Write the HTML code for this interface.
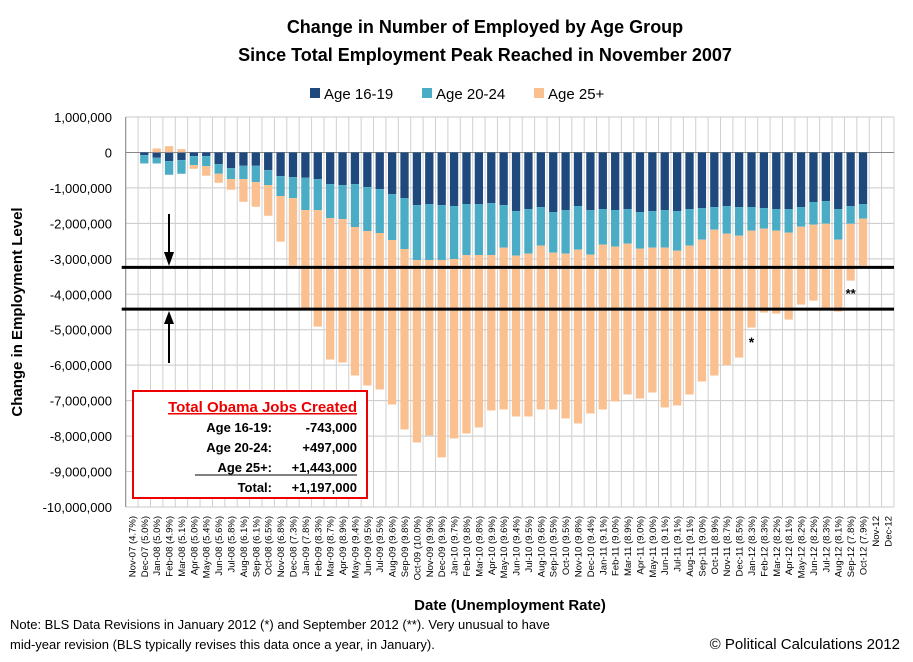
<!DOCTYPE html>
<html><head><meta charset="utf-8"><style>
body{margin:0;background:#fff;}
svg{display:block;font-family:"Liberation Sans",Arial,sans-serif;}
</style></head><body>
<svg id="c" width="913" height="662" xmlns="http://www.w3.org/2000/svg">
<text x="485" y="33" text-anchor="middle" font-size="18" font-weight="bold">Change in Number of Employed by Age Group</text>
<text x="485" y="61" text-anchor="middle" font-size="18" font-weight="bold">Since Total Employment Peak Reached in November 2007</text>
<g font-size="15">
<rect x="310" y="88" width="10" height="10" fill="#1f497d"/>
<text x="324" y="99">Age 16-19</text>
<rect x="422" y="88" width="10" height="10" fill="#4bacc6"/>
<text x="436" y="99">Age 20-24</text>
<rect x="534" y="88" width="10" height="10" fill="#fac090"/>
<text x="548" y="99">Age 25+</text>
</g>
<text transform="translate(22,312) rotate(-90)" text-anchor="middle" font-size="15" font-weight="bold">Change in Employment Level</text>
<text x="510" y="610" text-anchor="middle" font-size="15" font-weight="bold">Date (Unemployment Rate)</text>
<text x="10" y="629" font-size="13">Note: BLS Data Revisions in  January 2012 (*) and September 2012 (**).  Very unusual to have</text>
<text x="10" y="649" font-size="13">mid-year revision (BLS typically revises this data once a year, in January).</text>
<text x="900" y="649" text-anchor="end" font-size="15">© Political Calculations 2012</text>
<g id="plot"></g>
</svg>
<script>
const categories=["Nov-07 (4.7%)","Dec-07 (5.0%)","Jan-08 (5.0%)","Feb-08 (4.9%)","Mar-08 (5.1%)","Apr-08 (5.0%)","May-08 (5.4%)","Jun-08 (5.6%)","Jul-08 (5.8%)","Aug-08 (6.1%)","Sep-08 (6.1%)","Oct-08 (6.5%)","Nov-08 (6.8%)","Dec-08 (7.3%)","Jan-09 (7.8%)","Feb-09 (8.3%)","Mar-09 (8.7%)","Apr-09 (8.9%)","May-09 (9.4%)","Jun-09 (9.5%)","Jul-09 (9.5%)","Aug-09 (9.6%)","Sep-09 (9.8%)","Oct-09 (10.0%)","Nov-09 (9.9%)","Dec-09 (9.9%)","Jan-10 (9.7%)","Feb-10 (9.8%)","Mar-10 (9.8%)","Apr-10 (9.9%)","May-10 (9.6%)","Jun-10 (9.4%)","Jul-10 (9.5%)","Aug-10 (9.6%)","Sep-10 (9.5%)","Oct-10 (9.5%)","Nov-10 (9.8%)","Dec-10 (9.4%)","Jan-11 (9.1%)","Feb-11 (9.0%)","Mar-11 (8.9%)","Apr-11 (9.0%)","May-11 (9.0%)","Jun-11 (9.1%)","Jul-11 (9.1%)","Aug-11 (9.1%)","Sep-11 (9.0%)","Oct-11 (8.9%)","Nov-11 (8.7%)","Dec-11 (8.5%)","Jan-12 (8.3%)","Feb-12 (8.3%)","Mar-12 (8.2%)","Apr-12 (8.1%)","May-12 (8.2%)","Jun-12 (8.2%)","Jul-12 (8.3%)","Aug-12 (8.1%)","Sep-12 (7.8%)","Oct-12 (7.9%)","Nov-12","Dec-12"];
// values in thousands; null = no data
const age1619=[0,-75,-150,-244,-216,-103,-103,-329,-441,-376,-376,-498,-667,-695,-714,-751,-892,-920,-892,-977,-1033,-1174,-1286,-1484,-1455,-1484,-1512,-1455,-1455,-1427,-1484,-1653,-1596,-1540,-1681,-1624,-1512,-1624,-1596,-1624,-1596,-1681,-1653,-1624,-1653,-1596,-1568,-1540,-1512,-1540,-1540,-1568,-1596,-1596,-1540,-1399,-1371,-1596,-1512,-1455,null,null];
const age2024=[0,-235,-160,-385,-385,-254,-282,-272,-310,-376,-460,-423,-563,-592,-911,-873,-958,-958,-1211,-1239,-1239,-1296,-1437,-1549,-1578,-1549,-1493,-1437,-1437,-1465,-1202,-1258,-1258,-1089,-1146,-1230,-1230,-1258,-1005,-1033,-977,-1033,-1033,-1061,-1117,-1033,-892,-639,-779,-808,-667,-582,-610,-667,-554,-639,-639,-864,-498,-413,null,null];
const age25=[0,0,113,178,94,-103,-272,-254,-300,-639,-695,-864,-1286,-1906,-2770,-3287,-3991,-4047,-4188,-4357,-4413,-4639,-5089,-5146,-4949,-5568,-5061,-5033,-4864,-4385,-4564,-4535,-4592,-4620,-4423,-4648,-4902,-4479,-4648,-4366,-4254,-4226,-4085,-4507,-4366,-4197,-4000,-4113,-3700,-3437,-2732,-2366,-2338,-2451,-2197,-2141,-2394,-2028,-1606,-1324,null,null];
const yTicks=[1000000,0,-1000000,-2000000,-3000000,-4000000,-5000000,-6000000,-7000000,-8000000,-9000000,-10000000];
const refLines=[-3240000,-4420000];
const boxRows=[["Age 16-19:","-743,000"],["Age 20-24:","+497,000"],["Age 25+:","+1,443,000"],["Total:","+1,197,000"]];

const NS="http://www.w3.org/2000/svg";
const L=125.7,R=894,T=117,B=507;
const yMax=1000000,yMin=-10000000;
const bw=(R-L)/categories.length;
function y(v){return T+(yMax-v)/(yMax-yMin)*(B-T);}
function x(i){return L+bw*(i+0.5);}
const plot=document.getElementById('plot');
function mk(tag,attrs,parent){const e=document.createElementNS(NS,tag);for(const k in attrs)e.setAttribute(k,attrs[k]);(parent||plot).appendChild(e);return e;}
// grid
const grid=mk('g',{});


yTicks.forEach(t=>{mk('line',{x1:L,x2:R,y1:y(t),y2:y(t),stroke:'#c8c8c8','stroke-width':1},grid);});
for(let i=0;i<=categories.length;i++){const gx=L+bw*i;mk('line',{x1:gx,x2:gx,y1:T,y2:B,stroke:'#d0d0d0','stroke-width':1},grid);}
mk('line',{x1:L,x2:L,y1:T,y2:B,stroke:'#888'},grid);
mk('line',{x1:L,x2:R,y1:y(0),y2:y(0),stroke:'#888'},grid);
// y labels
yTicks.forEach(t=>{const tx=mk('text',{x:112,y:y(t)+5,'text-anchor':'end','font-size':13});tx.textContent=t.toLocaleString('en-US');

});
// bars
const series=[[age1619,'#1f497d','bar-age-16-19'],[age2024,'#4bacc6','bar-age-20-24'],[age25,'#fac090','bar-age-25plus']];
const w=bw*0.67;
categories.forEach((c,i)=>{let neg=0,pos=0;
 series.forEach(([arr,col,nm])=>{const v=arr[i];if(v==null||v===0)return;const vv=v*1000;let a,b;
  if(vv<0){a=neg;b=neg+vv;neg=b;}else{a=pos;b=pos+vv;pos=b;}
  const r=mk('rect',{x:x(i)-w/2,width:w,y:Math.min(y(a),y(b)),height:Math.abs(y(a)-y(b)),fill:col});
  
  });
 const tx=mk('text',{transform:`translate(${x(i)+3.5},516) rotate(-90)`,'text-anchor':'end','font-size':9.5});tx.textContent=c;
 
 
});
// reference lines
refLines.forEach(v=>{const l=mk('line',{x1:L-4,x2:R,y1:y(v),y2:y(v),stroke:'#000','stroke-width':3});

});
// arrows
const a1=mk('g',{});


mk('line',{x1:169,x2:169,y1:214,y2:256,stroke:'#000','stroke-width':2},a1);
mk('polygon',{points:'164,252 174,252 169,266',fill:'#000'},a1);
const a2=mk('g',{});


mk('line',{x1:169,x2:169,y1:320,y2:363,stroke:'#000','stroke-width':2},a2);
mk('polygon',{points:'164,324 174,324 169,311',fill:'#000'},a2);
// asterisks
const s1=mk('text',{x:x(50),y:347,'text-anchor':'middle','font-size':14,'font-weight':'bold'});s1.textContent='*';


const s2=mk('text',{x:x(58),y:298,'text-anchor':'middle','font-size':13,'font-weight':'bold'});s2.textContent='**';


// summary box
const bx=mk('g',{});


mk('rect',{x:133,y:391,width:234,height:107,fill:'#fff',stroke:'#e00','stroke-width':2},bx);
const ttl=mk('text',{x:357,y:412,'text-anchor':'end','font-size':15,'font-weight':'bold',fill:'#e00','text-decoration':'underline'},bx);ttl.textContent='Total Obama Jobs Created';


boxRows.forEach((r,k)=>{const yy=432+k*20;
 const a=mk('text',{x:272,y:yy,'text-anchor':'end','font-size':13,'font-weight':'bold'},bx);a.textContent=r[0];
 
 
 const b=mk('text',{x:357,y:yy,'text-anchor':'end','font-size':13,'font-weight':'bold'},bx);b.textContent=r[1];
 
 
 if(k===2)mk('line',{x1:195,x2:357,y1:yy+3,y2:yy+3,stroke:'#000'},bx);
});
</script>
</body></html>
